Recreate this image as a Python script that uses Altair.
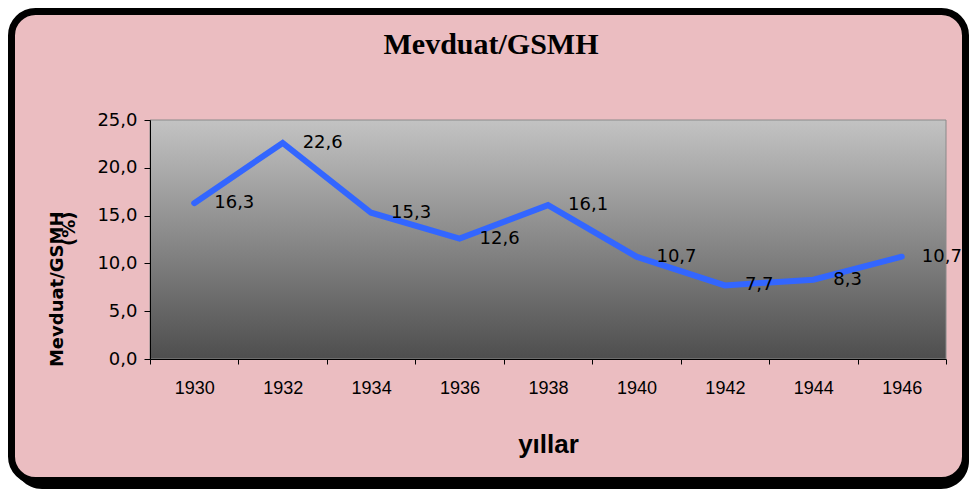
import altair as alt
import pandas as pd

years = ["1930", "1932", "1934", "1936", "1938", "1940", "1942", "1944", "1946"]
values = [16.3, 22.6, 15.3, 12.6, 16.1, 10.7, 7.7, 8.3, 10.7]
y_ticks = [0, 5, 10, 15, 20, 25]

df = pd.DataFrame({"year": years, "value": values})
one = pd.DataFrame({"k": [0]})

PINK = "#ebbdc1"

shadow = alt.Chart(one).mark_rect(color="black", cornerRadius=28).encode(
    x=alt.value(-136), x2=alt.value(819), y=alt.value(-107), y2=alt.value(369)
)
frame = alt.Chart(one).mark_rect(
    fill=PINK, stroke="black", strokeWidth=7, cornerRadius=24
).encode(
    x=alt.value(-138.5), x2=alt.value(815.5), y=alt.value(-108.5), y2=alt.value(360.5)
)
plotbg = alt.Chart(one).mark_rect(
    fill=alt.LinearGradient(
        gradient="linear",
        stops=[alt.GradientStop(color="#c3c3c3", offset=0),
               alt.GradientStop(color="#4e4e4e", offset=1)],
        x1=0, x2=0, y1=0, y2=1,
    ),
    stroke="#8a8a8a", strokeWidth=1,
).encode(x=alt.value(0), x2=alt.value("width"), y=alt.value(0), y2=alt.value("height"))

xenc = alt.X(
    "year:O",
    sort=years,
    scale=alt.Scale(type="band", paddingInner=0, paddingOuter=0),
    axis=alt.Axis(
        title="yıllar", titleFont="Liberation Sans", titleFontSize=26, titleFontWeight="bold",
        titleColor="black", titleY=93, titleBaseline="alphabetic",
        labelFont="Liberation Sans", labelFontSize=18,
        labelColor="black", labelAngle=0,
        labelPadding=15, tickSize=5, tickBand="extent", tickColor="black",
        domainColor="black", grid=False, zindex=1,
    ),
)
yenc = alt.Y(
    "value:Q",
    scale=alt.Scale(domain=[0, 25], nice=False),
    axis=alt.Axis(
        values=y_ticks,
        labelExpr="replace(format(datum.value, '.1f'), '.', ',')",
        labelFont="DejaVu Sans", labelFontSize=18, labelColor="black", labelPadding=7,
        tickSize=6, tickColor="black", domainColor="black", grid=False, zindex=1,
        title=["Mevduat/GSMH", "(%)"], titleFont="DejaVu Sans", titleFontSize=18,
        titleFontWeight="bold", titleColor="black", titleAngle=270, titleAlign="right",
        titleBaseline="middle", titleLineHeight=12, titleX=-93, titleY=91,
    ),
)

line = alt.Chart(df).mark_line(color="#3366ff", strokeWidth=6, strokeCap="round").encode(
    x=xenc, y=yenc
)
labels = alt.Chart(df).transform_calculate(
    lbl="replace(format(datum.value, '.1f'), '.', ',')"
).mark_text(
    align="left", baseline="middle", dx=20, font="DejaVu Sans", fontSize=18, color="black"
).encode(x=alt.X("year:O", sort=years), y="value:Q", text="lbl:N")

chart = alt.layer(shadow, frame, plotbg, line, labels).properties(
    width=796,
    height=239,
    autosize=alt.AutoSizeParams(type="none"),
    padding={"left": 142, "top": 112, "right": 23, "bottom": 130},
    background="white",
    title=alt.TitleParams(
        "Mevduat/GSMH", font="Liberation Serif", fontSize=30, fontWeight="bold",
        color="black", anchor="middle", dx=-57, baseline="alphabetic", dy=80,
    ),
).configure_view(stroke=None)

chart.save("out.html", embed_options={"renderer": "svg", "actions": False})
